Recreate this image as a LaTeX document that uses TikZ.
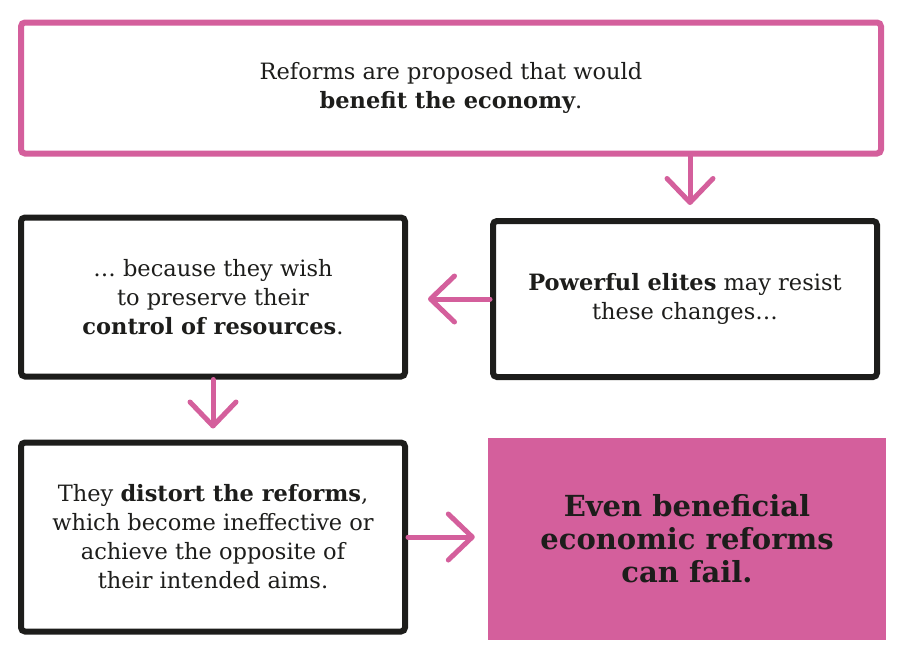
\documentclass[tikz,border=0pt]{standalone}
\usepackage{fontspec}
\setmainfont{DejaVu Serif}
\usepackage{xcolor}
\usetikzlibrary{arrows.meta}
\definecolor{CPink}{HTML}{D45F9C}
\definecolor{CInk}{HTML}{1D1D1B}

\begin{document}
\begin{tikzpicture}[
  x=1pt,y=-1pt,
  box/.style={draw=CInk,line width=6pt,rounded corners=4pt,fill=white,
    minimum width=384pt,align=center,text=CInk,
    font=\fontsize{22.5}{29}\selectfont},
  pbox/.style={box,draw=CPink},
  endbox/.style={fill=CPink,minimum width=398pt,minimum height=202pt,
    align=center,text=CInk,font=\bfseries\fontsize{29}{33}\selectfont},
  parr/.style={-{Straight Barb[length=24pt,width=46pt,round]},
    line width=5pt,line cap=round,color=CPink}
]
  \useasboundingbox (0,0) rectangle (903,653);
  \node[pbox,minimum width=860pt,minimum height=131pt] (top) at (451,88)
    {Reforms are proposed that would\\\textbf{benefit the economy}.};
  \node[box,minimum height=156pt] (resist) at (685,299)
    {\textbf{Powerful elites} may resist\\these changes\dots};
  \node[box,minimum height=159pt] (motive) at (213,297)
    {\dots\ because they wish\\to preserve their\\\textbf{control of resources}.};
  \node[box,minimum height=189pt] (distort) at (213,537)
    {They \textbf{distort the reforms},\\which become ineffective or\\achieve the opposite of\\their intended aims.};
  \node[endbox] (fail) at (687,539)
    {Even beneficial\\economic reforms\\can fail.};
  \coordinate (tx) at (690,0);
  \draw[parr,shorten >=13pt] (top.south -| tx) -- (tx |- resist.north);
  \draw[parr,shorten >=20pt] (resist.west) -- (resist.west -| motive.east);
  \draw[parr,shorten >=11pt] (motive.south) -- (distort.north);
  \draw[parr,shorten >=13pt] (distort.east) -- (distort.east -| fail.west);
\end{tikzpicture}
\end{document}
